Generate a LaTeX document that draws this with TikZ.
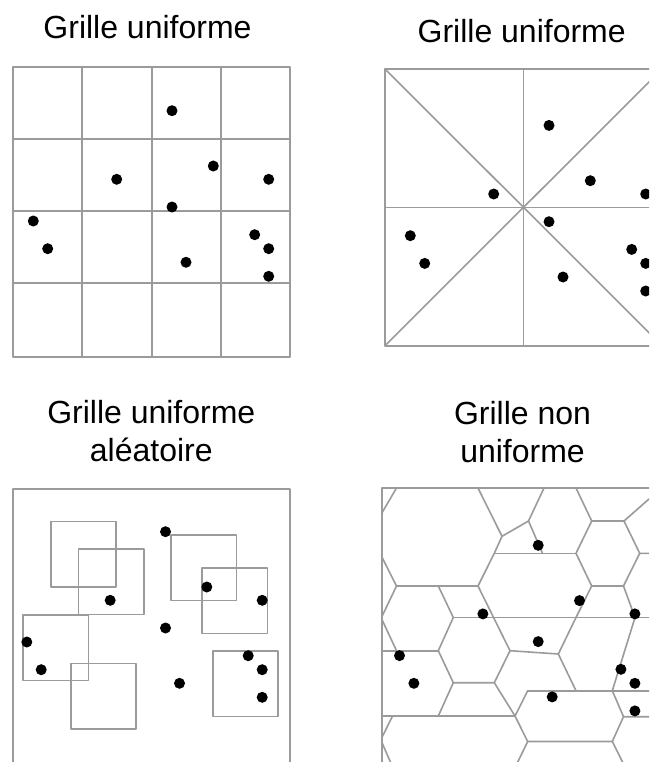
\documentclass[tikz,border=0pt]{standalone}
\usepackage{fontspec}
\setmainfont{Liberation Sans}
\definecolor{lg}{RGB}{155,155,155}
\newcommand{\pointset}{%
  \foreach \p in {(172,110.7),(213.3,166),(116.7,179.3),(268.7,179.3),(172,207),(33.3,221),(47.7,248.7),(254.7,234.7),(268.7,248.7),(186,262.3),(268.7,276.3)}
    \fill[black] \p circle[radius=5.5pt];}
\begin{document}
\begin{tikzpicture}[x=1pt,y=-1pt,
  ln/.style={draw=lg,line width=1.6pt,line cap=round,line join=round},
  ttl/.style={font=\fontsize{32}{38}\selectfont,anchor=base,inner sep=0pt}]
\clip (0,0) rectangle (649,762);
\fill[white] (0,0) rectangle (649,762);

% titles
\node[ttl] (t1) at (147.5,38.3) {Grille uniforme};
\node[ttl] (t2) at (521.7,42.7) {Grille uniforme};
\node[ttl] (t3a) at (151.3,423.3) {Grille uniforme};
\node[ttl] (t3b) at (151.3,461.7) {aléatoire};
\node[ttl] (t4a) at (522.5,424.3) {Grille non};
\node[ttl] (t4b) at (522.5,462.7) {uniforme};

% top-left: uniform grid
\draw[ln] (12.7,67.3) rectangle (290,356.7);
\draw[ln] (82,67.3) -- (82,356.7) (151.7,67.3) -- (151.7,356.7) (221,67.3) -- (221,356.7);
\draw[ln] (12.7,139.3) -- (290,139.3) (12.7,211) -- (290,211) (12.7,282.7) -- (290,282.7);
\pointset

% top-right: sectors
\draw[ln] (385,69) rectangle (662,345.7);
\draw[ln] (385,207.35) -- (662,207.35) (523.5,69) -- (523.5,345.7);
\draw[ln] (385,69) -- (662,345.7) (385,345.7) -- (662,69);
\begin{scope}[shift={(377,14.7)}]\pointset\end{scope}

% bottom-left: random squares
\draw[ln] (12.7,780) -- (12.7,489) -- (290,489) -- (290,780);
\foreach \a/\b in {50.7/521.3, 78.3/549, 171/535, 202/568, 23/615, 70.7/663.3, 212.7/651}
  \draw[ln] (\a,\b) rectangle ++(65.5,65.5);
\begin{scope}[shift={(-6.5,421)}]\pointset\end{scope}

% bottom-right: non-uniform (voronoi-like)
\draw[ln] (381.7,780) -- (381.7,488) -- (660,488);
\draw[ln] (396.5,488) -- (381.7,513.3);
\draw[ln] (381.7,556.7) -- (396.5,586) -- (478,586);
\draw[ln] (478,488) -- (502,536.3) -- (528.5,521) -- (544,488);
\draw[ln] (502,536.3) -- (494.3,553.3) -- (478,586);
\draw[ln] (494.3,553.3) -- (576,553.3);
\draw[ln] (528.5,521) -- (542.5,553.3);
\draw[ln] (576,488) -- (591.7,521) -- (624,521) -- (649,499);
\draw[ln] (624,521) -- (639.7,553.3) -- (649,553.3);
\draw[ln] (591.7,521) -- (576,553.3) -- (591.7,586) -- (623.5,586) -- (639.7,553.3);
\draw[ln] (591.7,586) -- (576,617.5) -- (558.3,654);
\draw[ln] (623.5,586) -- (635,617.5) -- (612.3,690.7);
\draw[ln] (453.3,617.5) -- (649,617.5);
\draw[ln] (478,586) -- (510,650.7) -- (558.3,654) -- (576,690.7);
\draw[ln] (510,650.7) -- (494.3,682.7);
\draw[ln] (396.5,586) -- (381.7,617);
\draw[ln] (381.7,619) -- (396.5,650.7);
\draw[ln] (381.7,650.7) -- (438.3,650.7);
\draw[ln] (438.3,586) -- (453.3,617.5) -- (438.3,650.7) -- (453.3,682.7) -- (494.3,682.7) -- (515,716);
\draw[ln] (453.3,682.7) -- (438.3,716);
\draw[ln] (381.7,716) -- (515,716);
\draw[ln] (527.7,690.7) -- (649,690.7);
\draw[ln] (527.7,690.7) -- (515,716) -- (527.7,741.5) -- (612.3,741.5) -- (623.5,716.7) -- (649,716.7);
\draw[ln] (612.3,690.7) -- (623.5,716.7);
\draw[ln] (527.7,741.5) -- (516.3,765);
\draw[ln] (612.3,741.5) -- (624,765);
\draw[ln] (392.5,716) -- (381.7,738);
\draw[ln] (381.7,742) -- (391.7,765);
\begin{scope}[shift={(366.2,434.6)}]\pointset\end{scope}
\end{tikzpicture}
\end{document}
